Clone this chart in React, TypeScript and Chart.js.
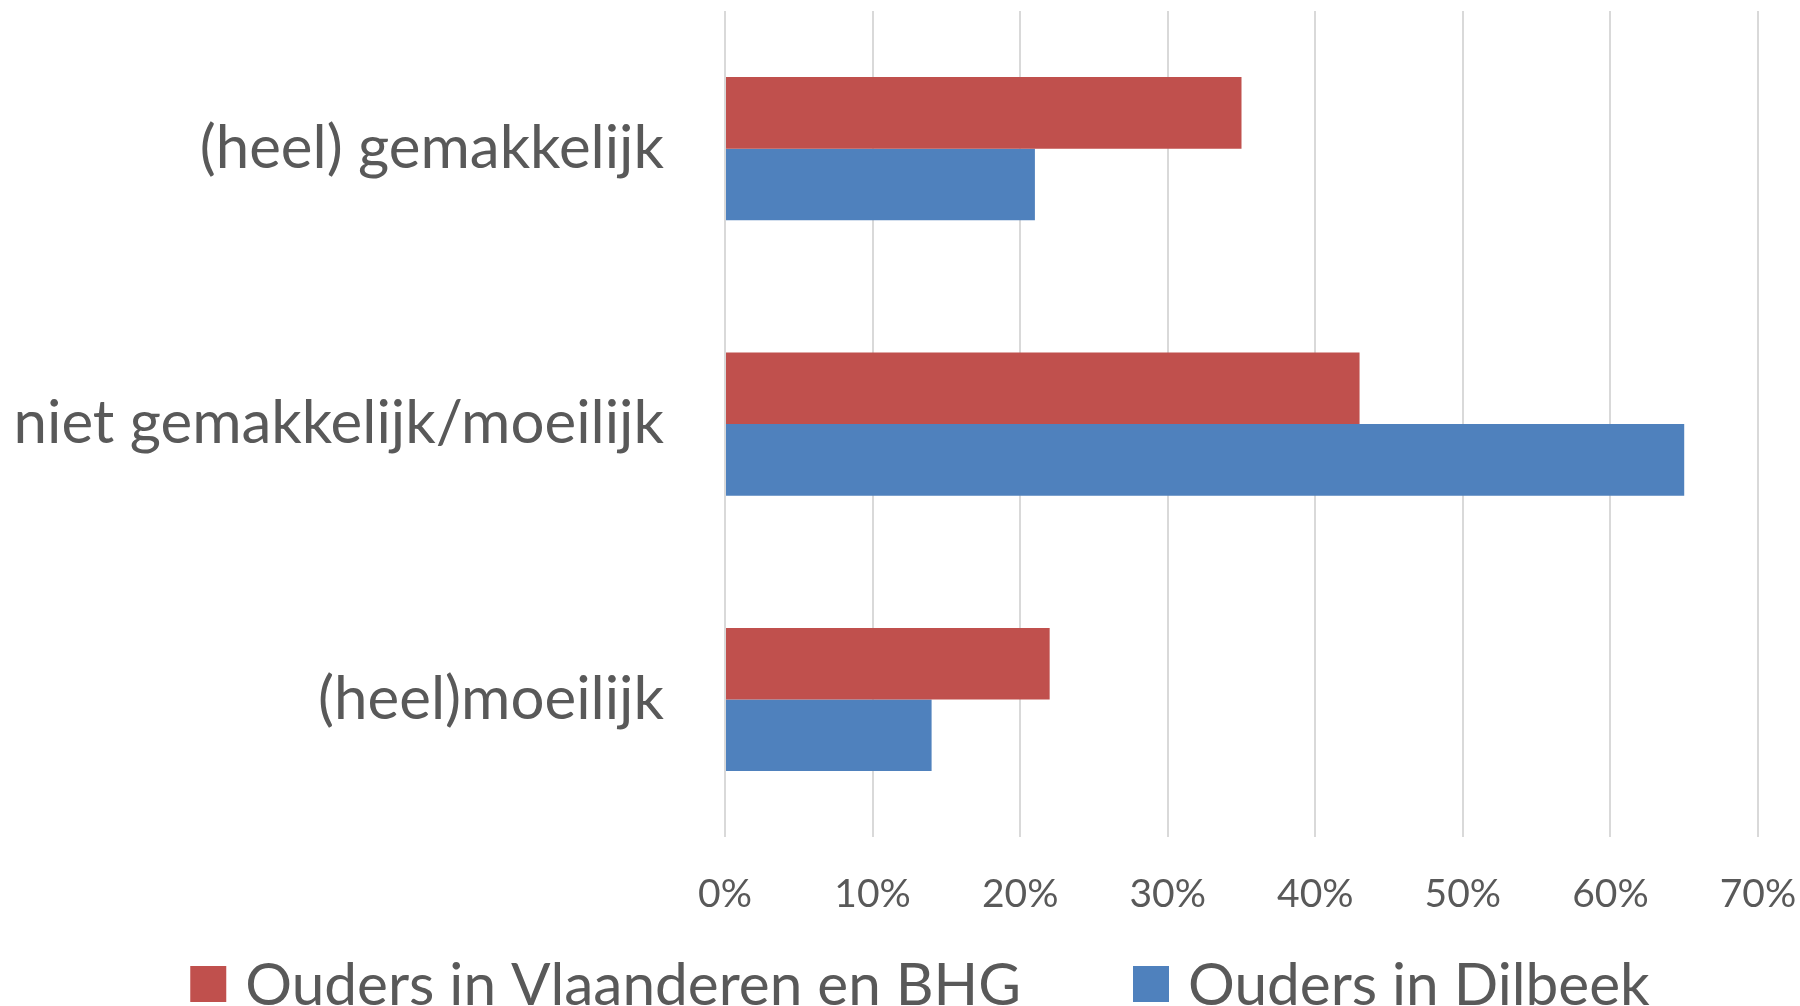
import React, { useEffect, useRef } from "react";
import { Chart, registerables } from "chart.js";
Chart.register(...registerables);

const categories = ["(heel) gemakkelijk", "niet gemakkelijk/moeilijk", "(heel)moeilijk"];
const seriesLabels = ["Ouders in Vlaanderen en BHG", "Ouders in Dilbeek"];
const vlaanderenBHG = [35, 43, 22];
const dilbeek = [21, 65, 14];
const seriesColors = ["#C0504D", "#4F81BD"];
const xMin = 0;
const xMax = 70;
const xStep = 10;

const FONT = "Lato";
const TEXT = "#595959";
const GRID = "#d9d9d9";

const bottomLegend = {
  id: "bottomLegend",
  afterDraw(chart: any) {
    const ctx = chart.ctx;
    const ds = chart.data.datasets;
    const fontSize = 58.5;
    const box = 36;
    const gapBoxText = 19;
    const gapItems = 112;
    const centerX = 920;
    const centerY = 984;
    ctx.save();
    ctx.font = `${fontSize}px ${FONT}`;
    const widths = ds.map((d: any) => ctx.measureText(d.label).width);
    let total = 0;
    widths.forEach((w: number, i: number) => {
      total += box + gapBoxText + w + (i < widths.length - 1 ? gapItems : 0);
    });
    let x = centerX - total / 2;
    ds.forEach((d: any, i: number) => {
      ctx.fillStyle = d.backgroundColor;
      ctx.fillRect(x, centerY - box / 2, box, box);
      x += box + gapBoxText;
      ctx.fillStyle = TEXT;
      ctx.textBaseline = "alphabetic";
      ctx.textAlign = "left";
      ctx.fillText(d.label, x, centerY + (fontSize * 0.72) / 2);
      x += widths[i] + gapItems;
    });
    ctx.restore();
  },
};

export default function App() {
  const ref = useRef<HTMLCanvasElement>(null);
  useEffect(() => {
    if (!ref.current) return;
    Chart.defaults.font.family = FONT;
    Chart.defaults.color = TEXT;
    const chart = new Chart(ref.current, {
      type: "bar",
      data: {
        labels: categories,
        datasets: [
          { label: seriesLabels[0], data: vlaanderenBHG, backgroundColor: seriesColors[0], borderWidth: 0 },
          { label: seriesLabels[1], data: dilbeek, backgroundColor: seriesColors[1], borderWidth: 0 },
        ],
      },
      options: {
        indexAxis: "y",
        responsive: false,
        animation: false,
        devicePixelRatio: 1,
        datasets: { bar: { categoryPercentage: 0.52, barPercentage: 1.0 } },
        layout: { padding: { top: 11, left: 0, right: 42, bottom: 54 } },
        plugins: {
          legend: { display: false },
          tooltip: { enabled: false },
          title: { display: false },
        },
        scales: {
          x: {
            type: "linear",
            position: "bottom",
            min: xMin,
            max: xMax,
            ticks: {
              stepSize: xStep,
              padding: 34,
              color: TEXT,
              maxRotation: 0,
              font: { family: FONT, size: 39 },
              callback: (v: any) => `${v}%`,
            },
            grid: { color: GRID, lineWidth: 2, drawTicks: false },
            border: { display: false },
            afterFit: (s: any) => {
              s.paddingLeft = 0;
              s.paddingRight = 0;
            },
          },
          y: {
            type: "category",
            position: "left",
            ticks: {
              padding: 61,
              color: TEXT,
              font: { family: FONT, size: 60 },
            },
            grid: { display: false, drawTicks: false },
            border: { display: false },
            afterFit: (s: any) => {
              s.width = 725;
              s.paddingTop = 0;
              s.paddingBottom = 0;
            },
          },
        },
      },
      plugins: [bottomLegend],
    });
    return () => chart.destroy();
  }, []);
  return (
    <div style={{ position: "fixed", left: 0, top: 0, width: 1800, height: 1006, background: "#fff" }}>
      <canvas ref={ref} width={1800} height={1006} />
    </div>
  );
}
